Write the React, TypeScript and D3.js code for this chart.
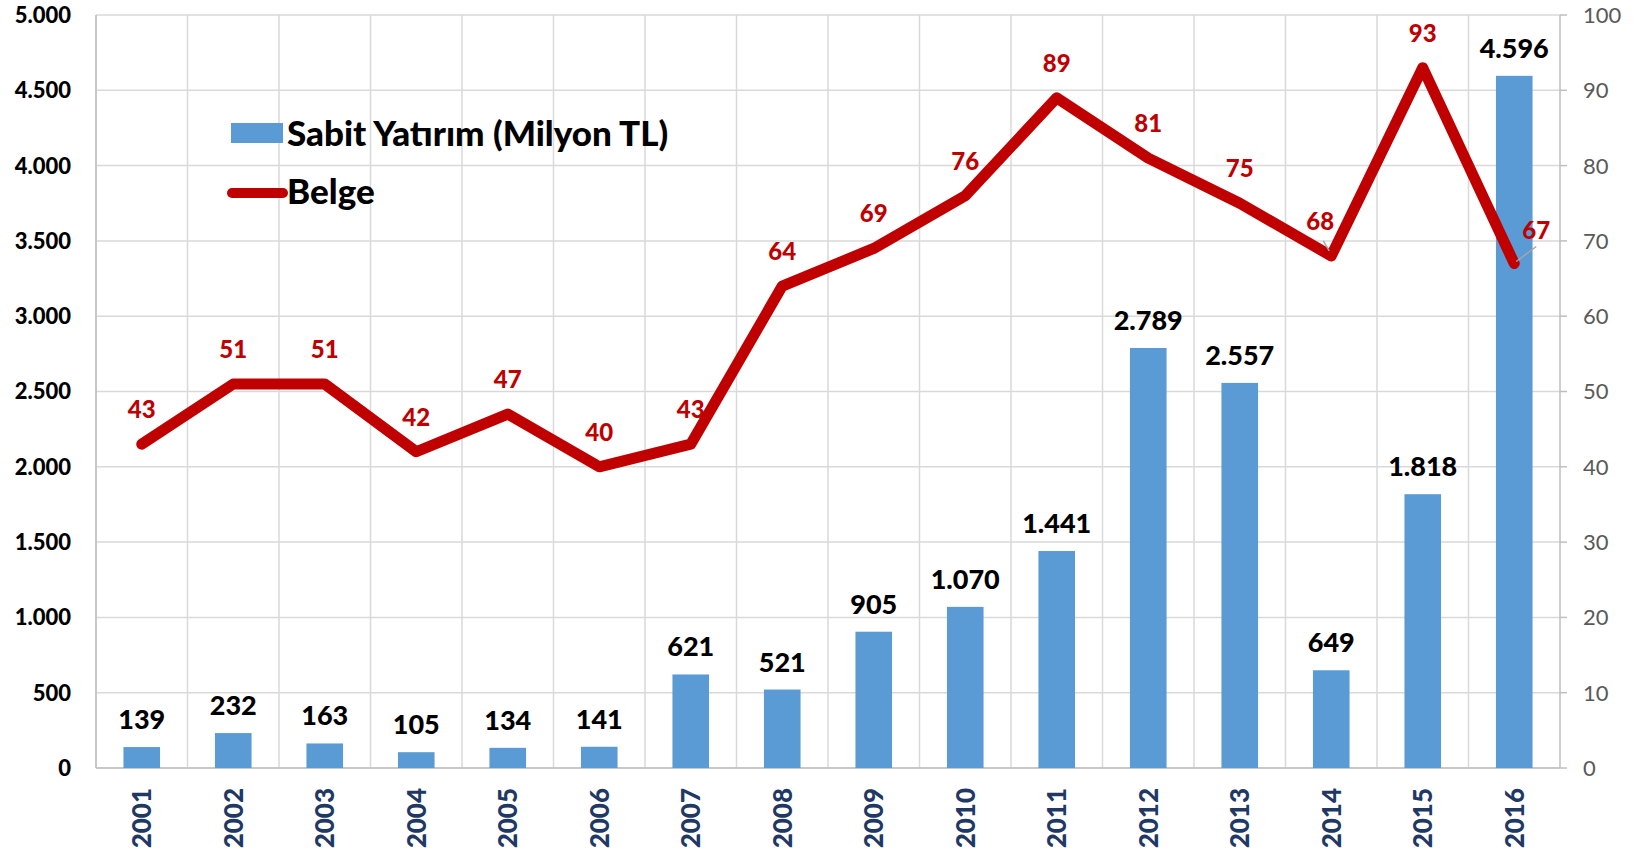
import { useMemo } from 'react'
import * as d3 from 'd3'

const years = ['2001', '2002', '2003', '2004', '2005', '2006', '2007', '2008', '2009', '2010', '2011', '2012', '2013', '2014', '2015', '2016']
const investment = [139, 232, 163, 105, 134, 141, 621, 521, 905, 1070, 1441, 2789, 2557, 649, 1818, 4596]
const certificates = [43, 51, 51, 42, 47, 40, 43, 64, 69, 76, 89, 81, 75, 68, 93, 67]
const leftTicks = [0, 500, 1000, 1500, 2000, 2500, 3000, 3500, 4000, 4500, 5000]
const rightTicks = [0, 10, 20, 30, 40, 50, 60, 70, 80, 90, 100]

const W = 1636
const H = 851
const M = { left: 96, right: 76, top: 15, bottom: 83 }
const FONT = 'Lato, "Open Sans", sans-serif'
const BAR = '#5B9BD5'
const RED = '#C00000'
const GRID = '#D9D9D9'

const fmt = (v: number) => d3.format(',')(v).replace(/,/g, '.')

// label nudges for the red line values (in px), only the crowded ones
const redShift: Record<string, [number, number]> = {
  '2014': [-11, 0],
  '2016': [22, 2],
}

export default function App() {
  const { x, yL, yR, linePath } = useMemo(() => {
    const x = d3.scaleBand<string>().domain(years).range([M.left, W - M.right]).padding(0)
    const yL = d3.scaleLinear().domain([0, 5000]).range([H - M.bottom, M.top])
    const yR = d3.scaleLinear().domain([0, 100]).range([H - M.bottom, M.top])
    const line = d3
      .line<number>()
      .x((_d: number, i: number) => (x(years[i]) ?? 0) + x.bandwidth() / 2)
      .y((d: number) => yR(d))
    return { x, yL, yR, linePath: line(certificates) || '' }
  }, [])

  const bw = x.bandwidth()
  const barW = bw * 0.4
  const x0 = M.left
  const x1 = W - M.right
  const yBase = H - M.bottom

  return (
    <svg width={W} height={H} style={{ display: 'block', fontFamily: FONT }}>
      <style>{`body{margin:0}`}</style>
      <rect width={W} height={H} fill="#fff" />

      {/* grid */}
      {leftTicks.map((t) => (
        <line key={'h' + t} x1={x0} x2={x1} y1={yL(t)} y2={yL(t)} stroke={GRID} strokeWidth={1.5} />
      ))}
      {years.map((yr) => (
        <line key={'v' + yr} x1={x(yr)} x2={x(yr)} y1={M.top} y2={yBase} stroke={GRID} strokeWidth={1.5} />
      ))}
      <line x1={x0} x2={x0} y1={M.top} y2={yBase} stroke="#BFBFBF" strokeWidth={1.5} />
      <line x1={x1} x2={x1} y1={M.top} y2={yBase} stroke="#BFBFBF" strokeWidth={1.5} />
      <line x1={x0} x2={x1} y1={yBase} y2={yBase} stroke="#BFBFBF" strokeWidth={1.5} />
      {rightTicks.map((t) => (
        <line key={'rt' + t} x1={x1} x2={x1 + 7} y1={yR(t)} y2={yR(t)} stroke="#BFBFBF" strokeWidth={1.5} />
      ))}

      {/* left axis */}
      {leftTicks.map((t) => (
        <text key={'l' + t} x={71} y={yL(t)} dy="0.36em" textAnchor="end" fontSize={22} fontWeight={900} fill="#000">
          {fmt(t)}
        </text>
      ))}
      {/* right axis */}
      {rightTicks.map((t) => (
        <text key={'r' + t} x={1583} y={yR(t)} dy="0.36em" textAnchor="start" fontSize={22} fill="#595959">
          {t}
        </text>
      ))}
      {/* x labels */}
      {years.map((yr) => {
        const cx = (x(yr) ?? 0) + bw / 2
        return (
          <text
            key={'x' + yr}
            transform={`translate(${cx},${788}) rotate(-90)`}
            textAnchor="end"
            dy="0.36em"
            fontSize={26}
            fontWeight={900}
            fill="#1F3864"
          >
            {yr}
          </text>
        )
      })}

      {/* bars */}
      {investment.map((v, i) => {
        const cx = (x(years[i]) ?? 0) + bw / 2
        return (
          <g key={'b' + i}>
            <rect x={cx - barW / 2} y={yL(v)} width={barW} height={yBase - yL(v)} fill={BAR} />
            <text x={cx} y={yL(v) - 18} textAnchor="middle" fontSize={27} fontWeight={900} fill="#000">
              {fmt(v)}
            </text>
          </g>
        )
      })}

      {/* line */}
      <path d={linePath} fill="none" stroke={RED} strokeWidth={11} strokeLinejoin="round" strokeLinecap="round" />
      {certificates.map((v, i) => {
        const yr = years[i]
        const cx = (x(yr) ?? 0) + bw / 2
        const cy = yR(v)
        const [dx, dy] = redShift[yr] ?? [0, 0]
        return (
          <g key={'c' + i}>
            {yr === '2014' && <line x1={cx - 2} y1={cy - 5} x2={cx - 8} y2={cy - 15} stroke="#A6A6A6" strokeWidth={1.5} />}
            {yr === '2016' && <line x1={cx + 2} y1={cy - 2} x2={cx + 22} y2={cy - 17} stroke="#A6A6A6" strokeWidth={1.5} />}
            <text x={cx + dx} y={cy - 26 + dy} textAnchor="middle" fontSize={24} fontWeight={900} fill={RED}>
              {v}
            </text>
          </g>
        )
      })}

      {/* legend */}
      <rect x={231} y={123} width={52} height={20} fill={BAR} />
      <text x={287} y={146} fontSize={35} fontWeight={900} fill="#000">
        Sabit Yatırım (Milyon TL)
      </text>
      <line x1={232} x2={283} y1={193} y2={193} stroke={RED} strokeWidth={10} strokeLinecap="round" />
      <text x={287} y={204} fontSize={35} fontWeight={900} fill="#000">
        Belge
      </text>
    </svg>
  )
}
